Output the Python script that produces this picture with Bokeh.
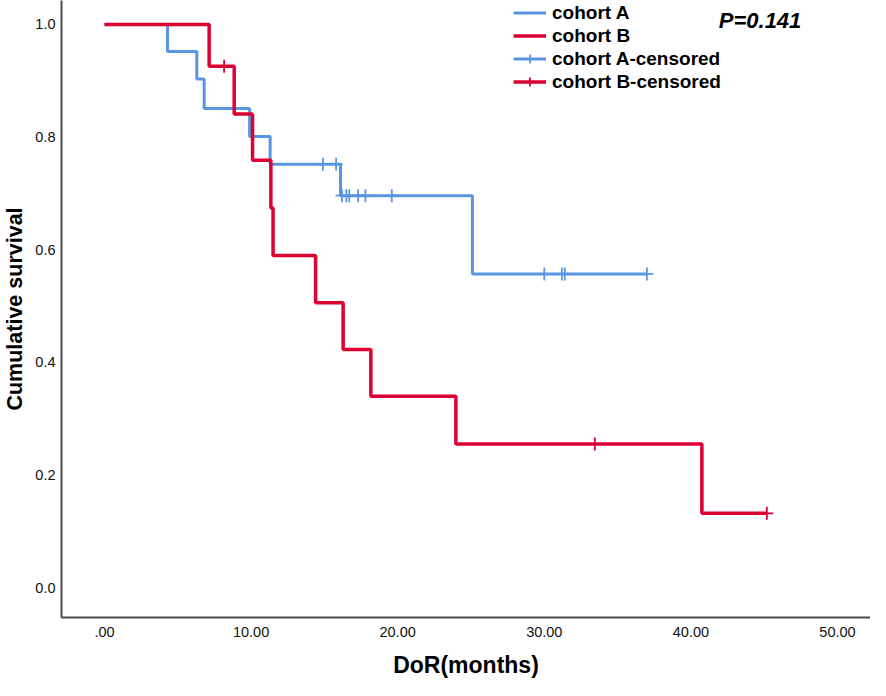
import numpy as np
from bokeh.plotting import figure
from bokeh.models import FixedTicker, Legend, LegendItem, Label, Range1d
from bokeh.embed import file_html
from bokeh.resources import INLINE

# Cohort A (blue) step curve: event times and survival after each event
a_times = [0.0, 4.3, 6.3, 6.8, 9.9, 11.3, 16.1, 25.1, 37.0]
a_surv = [1.0, 0.952, 0.903, 0.851, 0.801, 0.752, 0.696, 0.557, 0.557]
a_cens_t = [14.9, 15.8, 16.2, 16.5, 16.7, 17.3, 17.8, 19.6, 30.0, 31.2, 31.4, 37.0]
a_cens_s = [0.752, 0.752, 0.696, 0.696, 0.696, 0.696, 0.696, 0.696, 0.557, 0.557, 0.557, 0.557]

# Cohort B (red)
b_times = [0.0, 7.14, 8.85, 10.1, 11.35, 11.5, 14.4, 16.28, 18.17, 23.97, 40.75, 45.18]
b_surv = [1.0, 0.926, 0.841, 0.759, 0.674, 0.590, 0.506, 0.423, 0.340, 0.255, 0.132, 0.132]
b_cens_t = [8.16, 33.45, 45.18]
b_cens_s = [0.926, 0.255, 0.132]

x_ticks = [0, 10, 20, 30, 40, 50]
x_tick_labels = [".00", "10.00", "20.00", "30.00", "40.00", "50.00"]
y_ticks = [0.0, 0.2, 0.4, 0.6, 0.8, 1.0]
y_tick_labels = ["0.0", "0.2", "0.4", "0.6", "0.8", "1.0"]

BLUE = "#5896e4"
RED = "#dc0033"
FONT = "Liberation Sans"

p = figure(width=870, height=680, output_backend="svg", toolbar_location=None,
           x_range=Range1d(-2.93, 52.25), y_range=Range1d(-0.053, 1.0426),
           min_border_left=61, min_border_right=0, min_border_top=0, min_border_bottom=62)
p.outline_line_color = None
p.xgrid.visible = False
p.ygrid.visible = False
p.background_fill_color = "white"
p.border_fill_color = "white"

ra = p.step(a_times, a_surv, mode="after", line_color=BLUE, line_width=3)
rac = p.scatter(a_cens_t, a_cens_s, marker="cross", size=13, line_color=BLUE, line_width=1.8)
rb = p.step(b_times, b_surv, mode="after", line_color=RED, line_width=3.5)
rbc = p.scatter(b_cens_t, b_cens_s, marker="cross", size=13, line_color=RED, line_width=1.8)

for ax in (p.xaxis[0], p.yaxis[0]):
    ax.axis_line_color = "#4a4a4a"
    ax.axis_line_width = 2
    ax.major_tick_out = 0
    ax.major_tick_in = 0
    ax.minor_tick_out = 0
    ax.minor_tick_in = 0
    ax.major_label_text_font = FONT
    ax.major_label_text_font_size = "14.5px"
    ax.major_label_text_color = "#111111"
    ax.axis_label_text_font = FONT
    ax.axis_label_text_font_style = "bold"
    ax.axis_label_text_color = "black"

p.xaxis.ticker = FixedTicker(ticks=x_ticks)
p.xaxis.major_label_overrides = {t: l for t, l in zip(x_ticks, x_tick_labels)}
p.yaxis.ticker = FixedTicker(ticks=y_ticks)
p.yaxis.major_label_overrides = {t: l for t, l in zip(y_ticks, y_tick_labels)}
p.xaxis.axis_label = "DoR(months)"
p.xaxis.axis_label_text_font_size = "23px"
p.xaxis.major_label_standoff = 9
p.xaxis.axis_label_standoff = 12
p.yaxis.axis_label = "Cumulative survival"
p.yaxis.axis_label_text_font_size = "21.5px"
p.yaxis.major_label_standoff = 6
p.yaxis.axis_label_standoff = 5

legend = Legend(items=[
    LegendItem(label="cohort A", renderers=[ra]),
    LegendItem(label="cohort B", renderers=[rb]),
    LegendItem(label="cohort A-censored", renderers=[ra, rac]),
    LegendItem(label="cohort B-censored", renderers=[rb, rbc]),
], location=(452, 524), orientation="vertical")
legend.background_fill_alpha = 0
legend.border_line_color = None
legend.padding = 0
legend.margin = 0
legend.spacing = 0
legend.glyph_width = 33
legend.glyph_height = 23
legend.label_height = 23
legend.label_standoff = 6
legend.label_text_font = FONT
legend.label_text_font_style = "bold"
legend.label_text_font_size = "19px"
legend.label_text_color = "black"
p.add_layout(legend, "center")

pl = Label(x=41.9, y=1.007, text="P=0.141", text_font=FONT, text_font_style="bold italic",
           text_font_size="22px", text_baseline="middle", text_align="left", text_color="black")
p.add_layout(pl)

open("out.html", "w").write(file_html(p, INLINE))
